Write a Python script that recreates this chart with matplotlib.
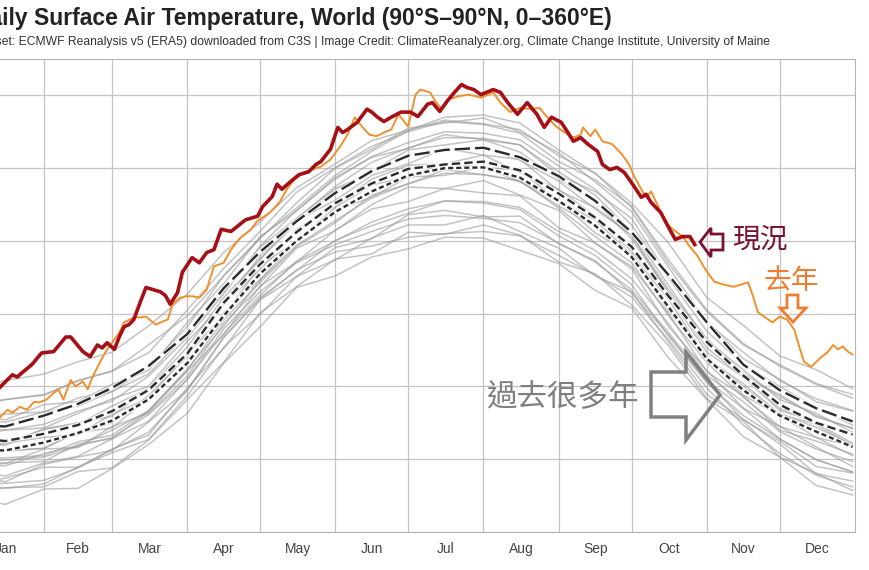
import matplotlib
matplotlib.use("Agg")
import matplotlib.pyplot as plt
from matplotlib.patches import Polygon

W, H = 870, 570

months = ["Jan", "Feb", "Mar", "Apr", "May", "Jun", "Jul", "Aug", "Sep", "Oct", "Nov", "Dec"]
month_start = [0, 31, 59, 90, 120, 151, 181, 212, 243, 273, 304, 334, 365]

# sample days for the climatology / past-year curves
days = [0, 15, 31, 45, 59, 74, 90, 105, 120, 135, 151, 166, 181, 196, 212, 227, 243, 258, 273, 288, 304, 319, 334, 349, 364]

# the three dashed mean curves
mean_long = [12.48, 12.45, 12.60, 12.76, 12.98, 13.28, 13.72, 14.35, 14.85, 15.27, 15.66, 15.96, 16.17,
             16.25, 16.28, 16.15, 15.89, 15.55, 15.12, 14.54, 13.88, 13.30, 12.95, 12.70, 12.52]
mean_mid = [12.30, 12.25, 12.35, 12.47, 12.66, 12.95, 13.45, 14.15, 14.68, 15.12, 15.52, 15.79, 15.99,
            16.05, 16.09, 15.97, 15.65, 15.32, 14.92, 14.25, 13.61, 13.15, 12.75, 12.50, 12.34]
mean_short = [12.14, 12.12, 12.23, 12.36, 12.53, 12.82, 13.32, 13.97, 14.55, 15.00, 15.40, 15.68, 15.90,
              16.00, 16.01, 15.87, 15.55, 15.21, 14.78, 14.10, 13.38, 12.95, 12.60, 12.38, 12.17]

# past years (grey)
gray_years = [
    [11.49, 11.38, 11.59, 11.60, 11.87, 12.20, 12.63, 13.32, 13.82, 14.36, 14.52, 14.78, 14.89, 15.05, 15.04, 14.87, 14.69, 14.32, 14.08, 13.40, 12.82, 12.31, 12.03, 11.64, 11.51],
    [11.50, 11.61, 11.62, 11.83, 11.88, 12.26, 12.82, 13.33, 14.01, 14.37, 14.75, 14.82, 15.12, 15.09, 15.22, 15.08, 14.71, 14.55, 14.12, 13.57, 12.83, 12.52, 12.03, 11.81, 11.57],
    [11.70, 11.60, 11.66, 11.89, 12.09, 12.27, 12.87, 13.54, 13.99, 14.51, 14.74, 15.04, 15.22, 15.22, 15.35, 15.13, 14.90, 14.52, 14.30, 13.62, 12.89, 12.55, 12.21, 11.80, 11.70],
    [11.64, 11.74, 11.89, 11.89, 12.14, 12.33, 12.98, 13.52, 14.19, 14.51, 14.91, 15.03, 15.36, 15.42, 15.33, 15.34, 14.96, 14.73, 14.28, 13.72, 13.07, 12.54, 12.25, 11.90, 11.81],
    [11.80, 11.69, 11.93, 12.03, 12.12, 12.51, 12.95, 13.68, 14.22, 14.59, 15.01, 15.21, 15.38, 15.55, 15.54, 15.46, 15.13, 14.87, 14.48, 13.87, 13.15, 12.79, 12.38, 12.14, 11.97],
    [11.96, 11.99, 12.03, 12.18, 12.30, 12.61, 13.09, 13.73, 14.25, 14.72, 15.00, 15.26, 15.44, 15.55, 15.52, 15.43, 15.07, 14.80, 14.40, 13.70, 13.05, 12.60, 12.28, 11.99, 11.83],
    [11.83, 11.95, 11.97, 12.21, 12.28, 12.65, 13.21, 13.71, 14.38, 14.71, 15.15, 15.44, 15.54, 15.72, 15.66, 15.62, 15.18, 14.97, 14.62, 13.83, 13.22, 12.70, 12.45, 12.17, 11.90],
    [12.01, 11.94, 12.14, 12.16, 12.45, 12.63, 13.14, 13.87, 14.37, 14.90, 15.14, 15.50, 15.74, 15.72, 15.83, 15.63, 15.42, 14.97, 14.65, 14.01, 13.20, 12.87, 12.40, 12.25, 12.07],
    [11.93, 11.91, 12.08, 12.18, 12.40, 12.66, 13.24, 13.83, 14.46, 14.94, 15.28, 15.59, 15.79, 15.93, 15.91, 15.82, 15.48, 15.20, 14.77, 14.13, 13.39, 13.00, 12.62, 12.44, 12.20],
    [12.15, 12.11, 12.15, 12.37, 12.43, 12.84, 13.29, 14.01, 14.47, 15.00, 15.42, 15.60, 15.88, 15.90, 16.02, 15.81, 15.55, 15.11, 14.82, 14.04, 13.42, 12.88, 12.60, 12.30, 12.18],
    [12.11, 12.22, 12.30, 12.34, 12.62, 12.83, 13.45, 13.97, 14.66, 14.99, 15.46, 15.77, 15.88, 16.07, 16.01, 15.97, 15.54, 15.29, 14.81, 14.21, 13.38, 13.04, 12.62, 12.48, 12.18],
    [12.27, 12.19, 12.42, 12.50, 12.59, 12.98, 13.45, 14.14, 14.60, 15.16, 15.48, 15.85, 16.04, 16.06, 16.18, 15.94, 15.71, 15.34, 14.86, 14.26, 13.47, 13.13, 12.67, 12.52, 12.34],
    [12.30, 12.40, 12.43, 12.63, 12.83, 13.00, 13.62, 14.13, 14.80, 15.28, 15.56, 15.90, 16.06, 16.27, 16.18, 16.12, 15.69, 15.46, 15.08, 14.29, 13.65, 13.12, 12.89, 12.58, 12.43],
    [12.55, 12.51, 12.65, 12.73, 12.93, 13.17, 13.73, 14.30, 14.91, 15.31, 15.72, 15.94, 16.19, 16.25, 16.29, 16.11, 15.82, 15.44, 15.08, 14.34, 13.65, 13.18, 12.86, 12.60, 12.42],
    [12.63, 12.54, 12.75, 12.79, 13.03, 13.22, 13.88, 14.41, 15.06, 15.41, 15.87, 16.15, 16.27, 16.46, 16.39, 16.32, 15.90, 15.68, 15.31, 14.52, 13.90, 13.38, 13.10, 12.79, 12.66],
    [12.71, 12.82, 12.89, 13.08, 13.21, 13.46, 14.05, 14.62, 15.13, 15.67, 16.01, 16.30, 16.50, 16.64, 16.60, 16.48, 16.09, 15.84, 15.48, 14.75, 14.05, 13.59, 13.28, 13.03, 12.84],
    [12.95, 13.08, 13.17, 13.34, 13.47, 13.83, 14.27, 14.84, 15.26, 15.73, 16.06, 16.38, 16.52, 16.66, 16.61, 16.53, 16.17, 15.93, 15.52, 14.98, 14.22, 13.84, 13.42, 13.23, 12.97],
    [12.44, 12.40, 12.48, 12.66, 12.80, 13.14, 13.67, 14.27, 14.93, 15.42, 15.85, 16.16, 16.35, 16.50, 16.48, 16.39, 16.03, 15.71, 15.22, 14.50, 13.76, 13.30, 13.00, 12.71, 12.47],
    [12.09, 12.12, 12.15, 12.38, 12.50, 12.87, 13.42, 14.12, 14.75, 15.25, 15.70, 15.96, 16.25, 16.32, 16.39, 16.22, 15.85, 15.54, 15.03, 14.30, 13.53, 13.13, 12.70, 12.50, 12.22],
    [12.29, 12.22, 12.41, 12.48, 12.73, 12.97, 13.54, 14.22, 14.75, 15.30, 15.75, 16.08, 16.28, 16.42, 16.41, 16.32, 15.95, 15.63, 15.13, 14.40, 13.63, 13.23, 12.82, 12.63, 12.37],
    [11.84, 11.77, 11.95, 12.04, 12.28, 12.52, 13.10, 13.79, 14.30, 14.70, 14.95, 15.13, 15.30, 15.35, 15.31, 15.25, 14.97, 14.71, 14.33, 13.75, 13.08, 12.70, 12.28, 12.00, 11.82],
    [12.59, 12.62, 12.65, 12.84, 12.93, 13.27, 13.82, 14.52, 15.03, 15.52, 16.00, 16.26, 16.55, 16.62, 16.69, 16.50, 16.21, 15.81, 15.40, 14.65, 13.88, 13.47, 13.08, 12.83, 12.67],
    [11.99, 12.02, 12.05, 12.24, 12.33, 12.67, 13.22, 13.92, 14.43, 14.92, 15.25, 15.63, 15.78, 15.98, 15.91, 15.83, 15.45, 15.06, 14.70, 13.98, 13.33, 12.85, 12.45, 12.30, 12.05],
    [12.74, 12.82, 12.88, 13.08, 13.21, 13.57, 13.97, 14.52, 15.05, 15.45, 15.90, 16.23, 16.52, 16.70, 16.73, 16.62, 16.25, 15.93, 15.46, 14.70, 14.03, 13.57, 13.30, 13.04, 12.89],
    [11.64, 11.67, 11.71, 11.88, 12.13, 12.37, 12.94, 13.67, 14.20, 14.60, 14.85, 14.93, 15.05, 15.10, 15.13, 15.07, 14.80, 14.53, 14.23, 13.65, 12.98, 12.47, 12.08, 11.78, 11.62],
]

# this year (red)
red_day = [12, 18, 20, 22, 26, 30, 35, 40, 42, 47, 50, 53, 55, 57, 60, 62, 64, 66, 68, 71, 73, 76, 79, 81,
           83, 86, 88, 92, 95, 98, 101, 104, 108, 114, 119, 121, 125, 127, 129, 132, 136, 140, 143, 145,
           149, 152, 154, 156, 160, 164, 166, 168, 171, 174, 178, 182, 185, 189, 191, 194, 197, 200, 203,
           205, 208, 211, 216, 219, 222, 226, 230, 234, 237, 240, 244, 246, 249, 252, 255, 259, 261, 264,
           267, 270, 273, 277, 279, 281, 285, 288, 291, 294, 297, 299]
red_temp = [12.96, 13.16, 13.13, 13.19, 13.30, 13.46, 13.48, 13.68, 13.68, 13.48, 13.41, 13.57, 13.53,
            13.60, 13.51, 13.68, 13.82, 13.85, 13.92, 14.19, 14.36, 14.33, 14.30, 14.25, 14.13, 14.29,
            14.57, 14.77, 14.70, 14.84, 14.88, 15.16, 15.13, 15.29, 15.34, 15.47, 15.61, 15.78, 15.71,
            15.80, 15.91, 15.95, 16.05, 16.09, 16.26, 16.56, 16.49, 16.53, 16.63, 16.81, 16.77, 16.71,
            16.64, 16.70, 16.77, 16.77, 16.71, 16.88, 16.90, 16.78, 16.92, 17.04, 17.15, 17.11, 17.08,
            17.01, 17.08, 17.04, 16.90, 16.74, 16.90, 16.74, 16.56, 16.70, 16.63, 16.53, 16.37, 16.42,
            16.33, 16.23, 16.05, 15.98, 16.01, 15.94, 15.80, 15.60, 15.64, 15.53, 15.39, 15.20, 15.02,
            15.06, 15.06, 14.95]

# last year (orange)
orange_day = [13, 16, 18, 21, 24, 27, 29, 32, 35, 37, 39, 42, 44, 47, 49, 51, 54, 57, 59, 62, 64, 68, 71,
              73, 77, 79, 82, 84, 87, 90, 92, 95, 98, 101, 105, 108, 112, 116, 119, 121, 124, 128, 131,
              134, 138, 141, 145, 149, 153, 156, 159, 162, 165, 168, 171, 174, 177, 181, 184, 186, 190,
              193, 195, 198, 202, 206, 211, 216, 219, 223, 227, 232, 235, 238, 242, 245, 249, 252, 253,
              256, 258, 261, 265, 269, 272, 274, 277, 279, 281, 284, 287, 290, 294, 297, 300, 303, 307,
              311, 315, 318, 321, 323, 325, 328, 331, 334, 337, 340, 342, 344, 347, 351, 354, 356, 358,
              360, 362, 364]
orange_temp = [12.58, 12.68, 12.64, 12.72, 12.68, 12.79, 12.78, 12.82, 12.91, 12.96, 12.82, 13.09, 13.00,
               13.07, 12.96, 13.13, 13.33, 13.51, 13.60, 13.74, 13.88, 13.95, 13.95, 13.96, 13.85, 13.88,
               13.92, 14.13, 14.22, 14.24, 14.24, 14.22, 14.33, 14.65, 14.70, 14.88, 15.05, 15.15, 15.28,
               15.32, 15.39, 15.53, 15.71, 15.84, 15.94, 15.98, 16.02, 16.12, 16.30, 16.46, 16.70, 16.57,
               16.46, 16.44, 16.49, 16.53, 16.74, 16.57, 17.01, 17.08, 17.04, 16.88, 16.81, 16.95, 16.99,
               17.01, 16.97, 17.04, 16.90, 16.77, 16.83, 16.81, 16.83, 16.71, 16.57, 16.50, 16.42, 16.46,
               16.56, 16.44, 16.53, 16.37, 16.33, 16.19, 16.05, 15.89, 15.71, 15.60, 15.68, 15.47, 15.25,
               15.16, 15.06, 14.92, 14.80, 14.63, 14.44, 14.40, 14.37, 14.40, 14.43, 14.24, 14.02, 13.95,
               13.88, 13.96, 13.92, 13.78, 13.55, 13.34, 13.27, 13.40, 13.48, 13.57, 13.51, 13.55, 13.48,
               13.44]

plt.rcParams["font.family"] = ["Liberation Sans", "Noto Sans CJK TC", "DejaVu Sans"]
plt.rcParams["lines.scale_dashes"] = False

fig = plt.figure(figsize=(W / 100, H / 100), dpi=100)
fig.patch.set_facecolor("white")

# axes runs a bit off the left edge (the picture is cropped there)
left_px, right_px, top_px, bottom_px = -31.3, 855, 59, 532
ax = fig.add_axes([left_px / W, 1 - bottom_px / H, (right_px - left_px) / W, (bottom_px - top_px) / H])

for g in gray_years:
    ax.plot(days, g, color="#9c9c9c", alpha=0.6, lw=1.1, zorder=2)

for m, dash in [(mean_long, (11, 3.6)), (mean_mid, (6, 3)), (mean_short, (3.6, 2.2))]:
    ax.plot(days, m, color="white", lw=3.2, alpha=0.8, zorder=3)
    ax.plot(days, m, color="#2b2b2b", lw=1.7, dashes=dash, zorder=4)

ax.plot(orange_day, orange_temp, color="#f0902c", lw=1.4, zorder=5)
ax.plot(red_day, red_temp, color="#a50f15", lw=2.6, zorder=6)

ax.set_xlim(0, 365)
ax.set_ylim(11, 17.5)
ax.set_xticks(month_start[1:-1])
ax.set_xticklabels([])
ax.set_xticks([(month_start[i] + month_start[i + 1]) / 2 for i in range(12)], minor=True)
ax.set_xticklabels(months, minor=True)
ax.set_yticks(range(11, 18))
ax.set_yticklabels([])
ax.tick_params(axis="both", which="both", length=0)
ax.tick_params(axis="x", which="minor", labelsize=10, labelcolor="#444444", pad=7)
ax.grid(True, which="major", color="#c4c4c4", lw=0.9)
ax.set_axisbelow(True)
for s in ["top", "right", "bottom"]:
    ax.spines[s].set_color("#b5b5b5")
ax.spines["left"].set_visible(False)

# title and credit line, cut at the left edge as in the source image
fig.text(612 / W, 1 - 18 / H, "Daily Surface Air Temperature, World (90°S–90°N, 0–360°E)",
         ha="right", va="center", fontsize=16.5, fontweight="bold", color="#222222")
fig.text(770 / W, 1 - 42 / H,
         "Dataset: ECMWF Reanalysis v5 (ERA5) downloaded from C3S | Image Credit: ClimateReanalyzer.org, "
         "Climate Change Institute, University of Maine",
         ha="right", va="center", fontsize=8.7, color="#333333")


def px(pts):
    return [(x / W, 1 - y / H) for x, y in pts]


cjk = ["Noto Sans CJK TC", "DejaVu Sans"]

# 現況 with left arrow
fig.patches.append(Polygon(px([(700, 242), (711, 228), (711, 234), (723, 234), (723, 250), (711, 250), (711, 257)]),
                           closed=True, fill=False, ec="#7a1030", lw=2, transform=fig.transFigure))
fig.text(760 / W, 1 - 240 / H, "現況", ha="center", va="center", fontsize=20, color="#7a1030", family=cjk)

# 去年 with down arrow
fig.patches.append(Polygon(px([(787, 295), (798, 295), (798, 308), (806, 308), (793, 322), (780, 308), (787, 308)]),
                           closed=True, fill=False, ec="#ee7d31", lw=2, transform=fig.transFigure))
fig.text(791 / W, 1 - 281 / H, "去年", ha="center", va="center", fontsize=20, color="#ee7d31", family=cjk)

# 過去很多年 with right arrow
fig.patches.append(Polygon(px([(651, 372), (686, 372), (686, 352), (720, 395), (686, 440), (686, 417), (651, 417)]),
                           closed=True, fill=False, ec="#808080", lw=2.5, transform=fig.transFigure))
fig.text(562 / W, 1 - 398 / H, "過去很多年", ha="center", va="center", fontsize=22, color="#7f7f7f", family=cjk)

fig.savefig("out.png", dpi=100, facecolor="white")
